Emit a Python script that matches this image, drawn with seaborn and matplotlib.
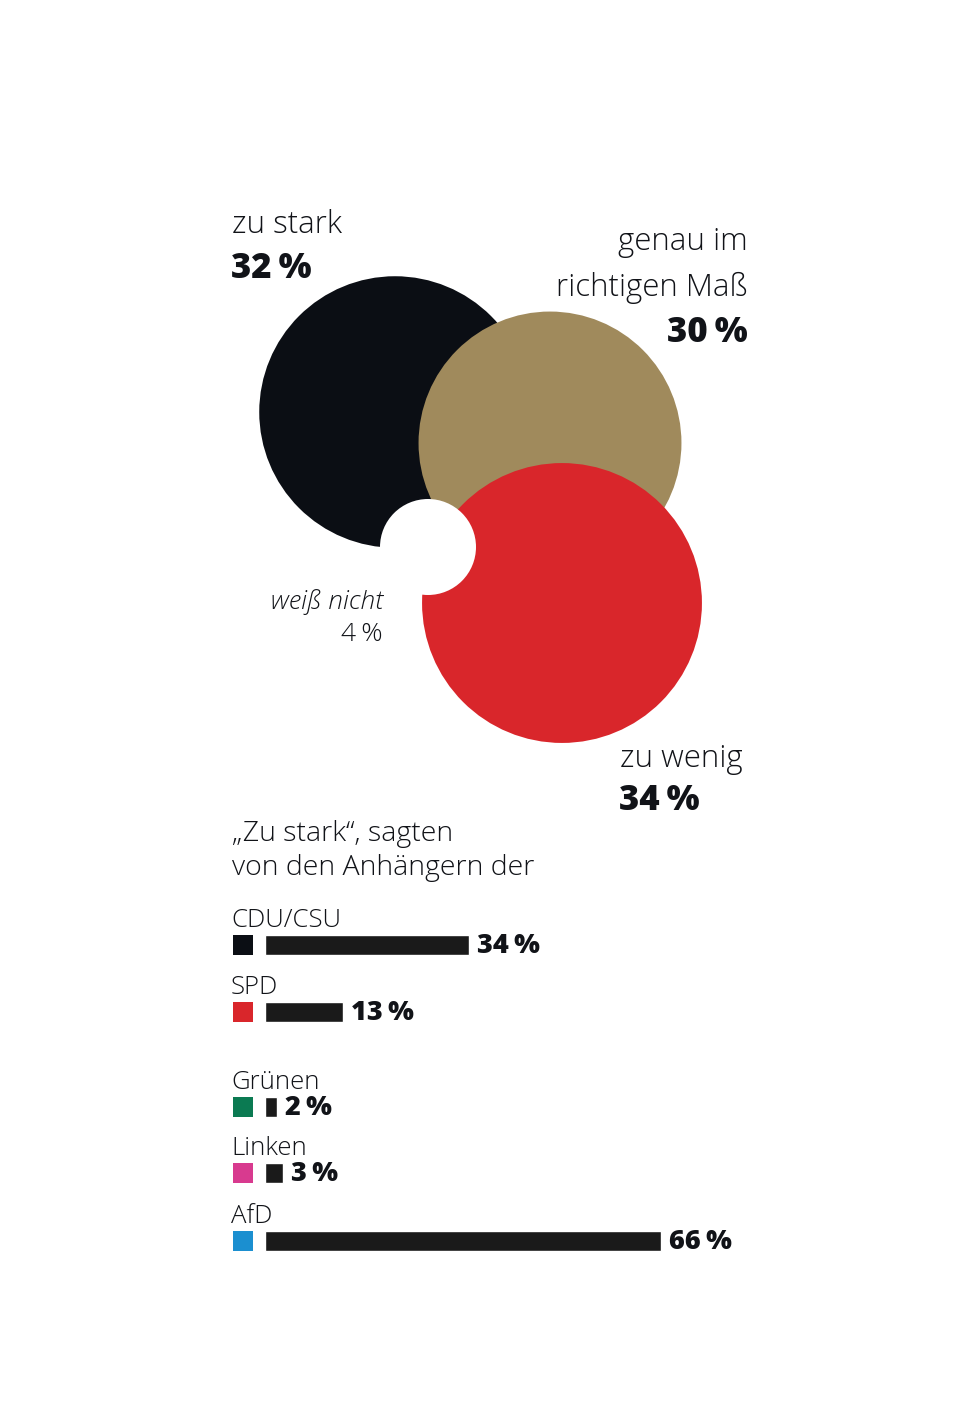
import matplotlib
matplotlib.use("Agg")
import matplotlib.pyplot as plt
import seaborn as sns
import numpy as np
import pandas as pd

# --- data ---
answers = ["zu stark", "genau im richtigen Maß", "zu wenig", "weiß nicht"]
answer_pct = [32, 30, 34, 4]
answer_colors = ["#0b0e14", "#a08a5c", "#d9262b", "#ffffff"]

parties = ["CDU/CSU", "SPD", "Grünen", "Linken", "AfD"]
party_pct = [34, 13, 2, 3, 66]
party_colors = ["#0b0e14", "#d9262b", "#0b7a52", "#d83a8f", "#1b8fd0"]

# --- layout (pixel positions) ---
W, H = 960, 1415
centers = [(395, 412), (550, 443), (562, 603), (428, 547)]
row_y = [945, 1012, 1107, 1173, 1241]
px_per_pct = 6
bar_left = 265

sns.set_theme(style="white")
plt.rcParams["font.family"] = ["Open Sans", "DejaVu Sans"]

fig = plt.figure(figsize=(W / 100, H / 100), dpi=100)
ax = fig.add_axes([0, 0, 1, 1])

# bubbles: area proportional to share (radius = 24 px * sqrt(pct))
bub = pd.DataFrame({
    "x": [c[0] for c in centers],
    "y": [c[1] for c in centers],
    "answer": answers,
    "pct": answer_pct,
})
k = (48 * 0.72) ** 2  # pt^2 per percent
sns.scatterplot(data=bub, x="x", y="y", hue="answer", size="pct",
                palette=dict(zip(answers, answer_colors)),
                sizes=(0, k * 40), size_norm=(0, 40),
                linewidth=0, alpha=1, legend=False, ax=ax)

# party swatches
sq = pd.DataFrame({"x": [243] * len(parties), "y": row_y, "party": parties})
sns.scatterplot(data=sq, x="x", y="y", hue="party", marker="s", s=(20 * 0.72) ** 2,
                palette=dict(zip(parties, party_colors)), linewidth=0,
                legend=False, ax=ax)
ax.set_xlim(0, W)
ax.set_ylim(H, 0)
ax.axis("off")

dark = "#111318"
lt = dict(color=dark, fontweight="light")
bd = dict(color=dark, fontweight="extra bold")

ax.text(232, 233, "zu stark", fontsize=22.5, **lt)
ax.text(231, 278, f"{answer_pct[0]}\u2009%", fontsize=25, **bd)
ax.text(748, 250, "genau im", fontsize=22.5, ha="right", **lt)
ax.text(748, 296, "richtigen Maß", fontsize=22.5, ha="right", **lt)
ax.text(748, 342, f"{answer_pct[1]}\u2009%", fontsize=25, ha="right", **bd)
ax.text(383, 609, "weiß nicht", fontsize=19, ha="right", style="italic", **lt)
ax.text(383, 641, f"{answer_pct[3]}\u2009%", fontsize=19, ha="right", **lt)
ax.text(620, 767, "zu wenig", fontsize=22.5, **lt)
ax.text(619, 810, f"{answer_pct[2]}\u2009%", fontsize=25, **bd)

ax.text(232, 841, "\u201eZu stark\u201c, sagten", fontsize=20.5, **lt)
ax.text(232, 875, "von den Anhängern der", fontsize=20.5, **lt)

for name, y in zip(parties, row_y):
    ax.text(231, y - 18, name, fontsize=18.5, **lt)

# bars
ax_b = fig.add_axes([bar_left / W, 0, 100 * px_per_pct / W, 1])
bars = pd.DataFrame({"pct": party_pct, "y": row_y})
sns.barplot(data=bars, x="pct", y="y", orient="h", native_scale=True,
            width=20 / 66, color="#1a1a1a", saturation=1, errorbar=None, ax=ax_b)
ax_b.set_xlim(0, 100)
ax_b.set_ylim(H, 0)
ax_b.axis("off")
for v, y in zip(party_pct, row_y):
    ax_b.annotate(f"{v}\u2009%", (v, y), xytext=(5.5, -0.5), textcoords="offset points",
                  va="center", ha="left", fontsize=19.5, **bd)

fig.savefig("out.png", dpi=100, facecolor="white")
